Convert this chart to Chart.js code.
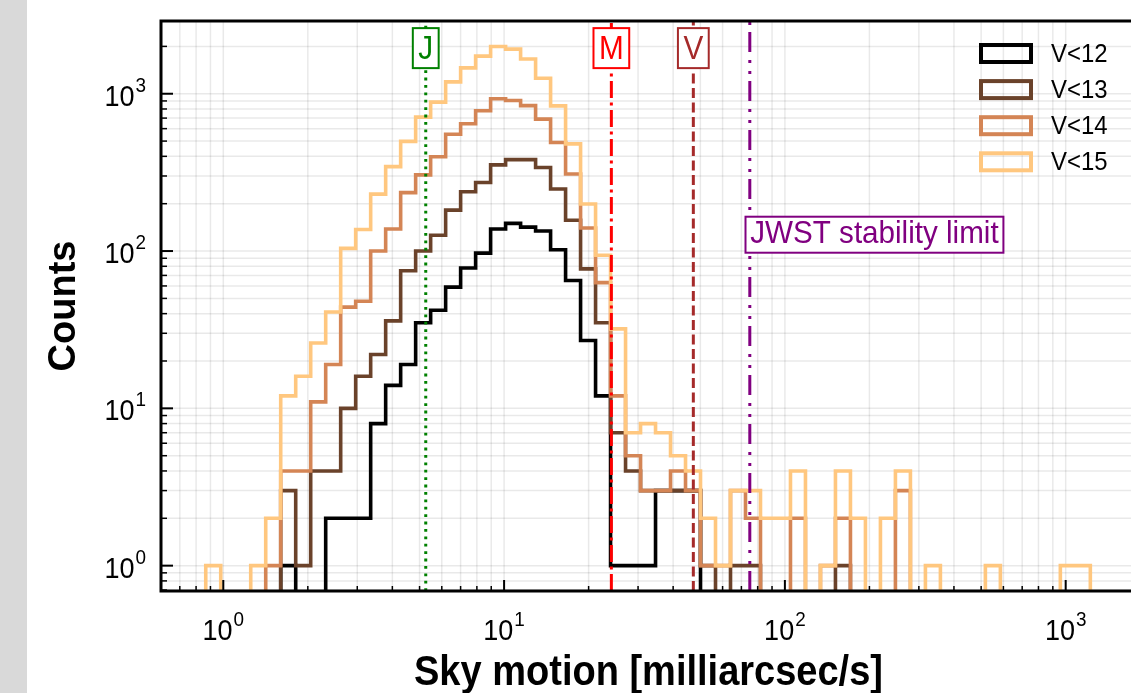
<!DOCTYPE html>
<html lang="pt-BR">
<head>
<meta charset="utf-8">
<title>Movimento no céu</title>
<script src="https://cdn.jsdelivr.net/npm/chart.js@4.4.1/dist/chart.umd.min.js"></script>
<style>
    html, body { margin: 0; padding: 0; overflow: hidden; background: #ffffff; }
    #grafico-movimento { display: block; }
</style>
</head>
<body>
<canvas id="grafico-movimento" width="1160" height="693"></canvas>
<script>
// Bins logarítmicos do histograma (milliarcsec/s)
const binMin = 0.866;
const binMax = 1224;
const numBins = 59;

// Contagens por bin, uma lista por limite de magnitude
const contagemV12 = [
    0, 0, 0, 0, 0, 1, 0, 0, 2, 2,
    2, 8, 14, 19, 35, 42, 59, 78, 97, 138,
    150, 142, 134, 102, 65, 27, 12, 1, 1, 1,
    3, 3, 3, 0, 0, 0, 0, 0, 0, 0,
    0, 0, 0, 0, 0, 0, 0, 0, 0, 0,
    0, 0, 0, 0, 0, 0, 0, 0, 0
];
const contagemV13 = [
    0, 0, 0, 0, 0, 3, 1, 4, 4, 10,
    16, 22, 36, 75, 100, 126, 182, 238, 273, 353,
    381, 381, 340, 248, 157, 77, 35, 7, 4, 3,
    3, 3, 3, 1, 0, 1, 1, 0, 0, 0,
    0, 0, 1, 0, 0, 0, 0, 0, 0, 0,
    0, 0, 0, 0, 0, 0, 0, 0, 0
];
const contagemV14 = [
    0, 0, 0, 0, 1, 4, 4, 11, 19, 44,
    48, 100, 138, 235, 305, 398, 553, 645, 780, 930,
    905, 840, 690, 490, 309, 140, 63, 12, 5, 3,
    3, 4, 3, 1, 1, 3, 2, 0, 0, 2,
    0, 1, 2, 0, 0, 0, 3, 0, 0, 0,
    0, 0, 0, 0, 0, 0, 0, 0, 0
];
const contagemV15 = [
    1, 0, 0, 1, 2, 12, 16, 26, 41, 104,
    137, 230, 344, 498, 710, 885, 1190, 1460, 1735, 1995,
    1920, 1664, 1254, 837, 480, 199, 94, 32, 7, 8,
    7, 5, 4, 2, 1, 3, 3, 2, 2, 4,
    0, 1, 4, 2, 0, 2, 4, 0, 1, 0,
    0, 0, 1, 0, 0, 0, 0, 1, 1
];

const rotulosSerie = ['V<12', 'V<13', 'V<14', 'V<15'];
const coresSerie = ['#000000', '#6a422a', '#d48555', '#ffc77f'];

// Linhas de referência verticais (milliarcsec/s)
const refRotulos = ['J', 'M', 'V', 'JWST stability limit'];
const refValores = [5.26, 24.1, 47.2, 75];
const refCores = ['#008000', '#ff0000', '#a52a2a', '#800080'];
const refTracos = [[2.8, 4.6], [17, 4.5, 3, 4.5], [10, 4.5], [20, 7, 3, 8, 3, 8]];
const refRotuloY = [1950, 1950, 1950, 127];

// Limites dos eixos
const xMin = 0.6, xMax = 1780;
const yMin = 0.69, yMax = 2900;
const piso = 0.1; // contagem zero fica abaixo do eixo e é recortada

const FONTE = "'Liberation Sans', Arial, Helvetica, sans-serif";
const APERTO = 0.9; // compressão horizontal dos textos

/** Bordas dos bins, espaçadas igualmente em log. */
function calculaBordas() {
    const a = Math.log10(binMin), b = Math.log10(binMax);
    const bordas = [];
    for (let i = 0; i <= numBins; i++) bordas.push(Math.pow(10, a + (b - a) * i / numBins));
    return bordas;
}

/** Converte as contagens em pontos de um histograma em degraus. */
function montaDegraus(contagens, bordas) {
    const pontos = [{ x: bordas[0], y: piso }];
    contagens.forEach((c, i) => pontos.push({ x: bordas[i], y: c > 0 ? c : piso }));
    const ultima = contagens[contagens.length - 1];
    pontos.push({ x: bordas[numBins], y: ultima > 0 ? ultima : piso });
    pontos.push({ x: bordas[numBins], y: piso });
    return pontos;
}

/** Valores 1..9 x 10^k dentro do intervalo. */
function valoresLog(min, max) {
    const lista = [];
    for (let e = Math.floor(Math.log10(min)); e <= Math.ceil(Math.log10(max)); e++) {
        for (let m = 1; m <= 9; m++) {
            const v = m * Math.pow(10, e);
            if (v >= min && v <= max) lista.push({ v, maior: m === 1, expoente: e });
        }
    }
    return lista;
}

/** Texto comprimido na horizontal a partir de (x, y). */
function textoApertado(ctx, texto, x, y, escala) {
    ctx.save();
    ctx.translate(x, y);
    ctx.scale(escala, 1);
    ctx.fillText(texto, 0, 0);
    ctx.restore();
}

function larguraApertada(ctx, texto, escala) {
    return ctx.measureText(texto).width * escala;
}

/** Escreve 10 com expoente sobrescrito; alinhamento 'center' ou 'right'. */
function desenhaPotencia(ctx, expoente, x, yBase, alinhamento) {
    const fBase = `30px ${FONTE}`, fExp = `21px ${FONTE}`;
    ctx.font = fBase;
    const w1 = larguraApertada(ctx, '10', APERTO);
    ctx.font = fExp;
    const w2 = larguraApertada(ctx, String(expoente), APERTO);
    const total = w1 + w2 + 1;
    const inicio = alinhamento === 'center' ? x - total / 2 : x - total;
    ctx.textAlign = 'left';
    ctx.textBaseline = 'alphabetic';
    ctx.font = fBase;
    textoApertado(ctx, '10', inicio, yBase, APERTO);
    ctx.font = fExp;
    textoApertado(ctx, String(expoente), inicio + w1 + 1, yBase - 14, APERTO);
}

/** Caixa branca com borda colorida e texto. */
function caixaTexto(ctx, texto, cor, fonte, escala, esquerda, centroY, larguraExtra, altura, deslocBase) {
    ctx.font = fonte;
    const w = larguraApertada(ctx, texto, escala);
    ctx.fillStyle = '#ffffff';
    ctx.fillRect(esquerda, centroY - altura / 2, w + larguraExtra, altura);
    ctx.strokeStyle = cor;
    ctx.lineWidth = 2;
    ctx.strokeRect(esquerda, centroY - altura / 2, w + larguraExtra, altura);
    ctx.fillStyle = cor;
    ctx.textAlign = 'left';
    ctx.textBaseline = 'alphabetic';
    textoApertado(ctx, texto, esquerda + larguraExtra / 2, centroY + deslocBase, escala);
}

const moldura = {
    id: 'moldura',
    beforeDraw(chart) {
        const { ctx, width, height } = chart;
        ctx.save();
        ctx.fillStyle = '#ffffff';
        ctx.fillRect(0, 0, width, height);
        ctx.fillStyle = '#d9d9d9';
        ctx.fillRect(0, 0, 27, height);
        ctx.restore();
    },
    beforeDatasetsDraw(chart) {
        const { ctx, chartArea: a, scales: { x, y } } = chart;
        ctx.save();
        ctx.strokeStyle = 'rgba(0, 0, 0, 0.085)';
        ctx.lineWidth = 1.5;
        valoresLog(x.min, x.max).forEach(t => {
            const px = x.getPixelForValue(t.v);
            ctx.beginPath(); ctx.moveTo(px, a.top); ctx.lineTo(px, a.bottom); ctx.stroke();
        });
        valoresLog(y.min, y.max).forEach(t => {
            const py = y.getPixelForValue(t.v);
            ctx.beginPath(); ctx.moveTo(a.left, py); ctx.lineTo(a.right, py); ctx.stroke();
        });
        ctx.restore();
    },
    afterDatasetsDraw(chart) {
        const { ctx, chartArea: a, scales: { x, y } } = chart;
        ctx.save();

        // Caixas das linhas de referência
        refRotulos.forEach((r, i) => {
            const px = x.getPixelForValue(refValores[i]);
            const py = y.getPixelForValue(refRotuloY[i]);
            if (i < 3) {
                const fonte = `33px ${FONTE}`;
                ctx.font = fonte;
                const w = larguraApertada(ctx, r, APERTO) + 11;
                caixaTexto(ctx, r, refCores[i], fonte, APERTO, px - w / 2, py, 11, 40, 10.5);
            } else {
                caixaTexto(ctx, r, refCores[i], `31.5px ${FONTE}`, 0.94, px - 4.3, py, 9.5, 36, 8.5);
            }
        });

        // Eixos (molduras) e marcas internas
        ctx.strokeStyle = '#000000';
        ctx.lineWidth = 3;
        ctx.strokeRect(a.left, a.top, a.right - a.left, a.bottom - a.top);

        valoresLog(x.min, x.max).forEach(t => {
            const px = x.getPixelForValue(t.v);
            ctx.lineWidth = t.maior ? 2 : 1.5;
            ctx.beginPath(); ctx.moveTo(px, a.bottom); ctx.lineTo(px, a.bottom - (t.maior ? 11 : 5)); ctx.stroke();
        });
        valoresLog(y.min, y.max).forEach(t => {
            const py = y.getPixelForValue(t.v);
            ctx.lineWidth = t.maior ? 2 : 1.5;
            ctx.beginPath(); ctx.moveTo(a.left, py); ctx.lineTo(a.left + (t.maior ? 12 : 6), py); ctx.stroke();
        });

        // Rótulos das potências de 10
        ctx.fillStyle = '#000000';
        valoresLog(x.min, x.max).filter(t => t.maior).forEach(t => {
            desenhaPotencia(ctx, t.expoente, x.getPixelForValue(t.v), 640, 'center');
        });
        valoresLog(y.min, y.max).filter(t => t.maior).forEach(t => {
            desenhaPotencia(ctx, t.expoente, 146, y.getPixelForValue(t.v) + 12, 'right');
        });

        // Títulos dos eixos
        ctx.font = `bold 42px ${FONTE}`;
        ctx.textAlign = 'center';
        ctx.textBaseline = 'alphabetic';
        textoApertado(ctx, 'Sky motion [milliarcsec/s]', (a.left + a.right) / 2, 685, 0.905);
        ctx.save();
        ctx.translate(75, (a.top + a.bottom) / 2);
        ctx.rotate(-Math.PI / 2);
        ctx.font = `bold 38px ${FONTE}`;
        ctx.fillText('Counts', 0, 0);
        ctx.restore();

        // Legenda com retângulos vazados
        rotulosSerie.forEach((r, i) => {
            const cy = 53.5 + i * 36.1;
            ctx.strokeStyle = coresSerie[i];
            ctx.lineWidth = 4;
            ctx.strokeRect(981, cy - 8.5, 50, 17);
            ctx.fillStyle = '#000000';
            ctx.font = `26px ${FONTE}`;
            ctx.textAlign = 'left';
            ctx.textBaseline = 'middle';
            textoApertado(ctx, r, 1051, cy + 1, 0.92);
        });

        ctx.restore();
    }
};

function init() {
    const bordas = calculaBordas();
    const series = [contagemV12, contagemV13, contagemV14, contagemV15];

    const datasets = series.map((contagens, i) => ({
        label: rotulosSerie[i],
        data: montaDegraus(contagens, bordas),
        borderColor: coresSerie[i],
        borderWidth: 3.6,
        stepped: 'before',
        pointRadius: 0,
        fill: false,
        order: 4 - i
    }));

    refValores.forEach((v, i) => {
        datasets.push({
            label: refRotulos[i],
            data: [{ x: v, y: yMin }, { x: v, y: yMax }],
            borderColor: refCores[i],
            borderWidth: 3,
            borderDash: refTracos[i],
            pointRadius: 0,
            fill: false,
            order: 0
        });
    });

    const ctx = document.getElementById('grafico-movimento').getContext('2d');
    new Chart(ctx, {
        type: 'line',
        data: { datasets },
        options: {
            responsive: false,
            animation: false,
            layout: { padding: { left: 161, top: 21, right: 24, bottom: 102 } },
            plugins: { legend: { display: false }, tooltip: { enabled: false } },
            scales: {
                x: { type: 'logarithmic', min: xMin, max: xMax, bounds: 'data', display: false },
                y: { type: 'logarithmic', min: yMin, max: yMax, bounds: 'data', display: false }
            }
        },
        plugins: [moldura]
    });
}

init();
</script>
</body>
</html>
